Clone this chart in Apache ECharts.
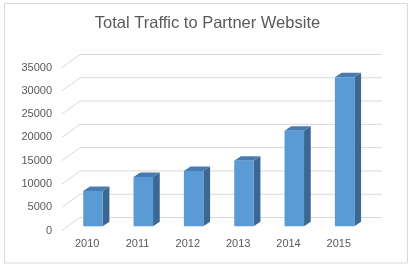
<!DOCTYPE html>
<html>
<head>
<meta charset="utf-8">
<script src="https://cdn.jsdelivr.net/npm/echarts@6/dist/echarts.min.js"></script>
<style>
html,body{margin:0;padding:0;background:#fff;}
#chart{width:415px;height:267px;}
</style>
</head>
<body>
<div id="chart"></div>
<script>
const titleText = 'Total Traffic to Partner Website';
const categories = ['2010', '2011', '2012', '2013', '2014', '2015'];
const traffic = [7600, 10600, 11900, 14100, 20500, 32000];
const yTicks = [0, 5000, 10000, 15000, 20000, 25000, 30000, 35000];

const chart = echarts.init(document.getElementById('chart'), null, {renderer: 'canvas'});

const WALL_DX = 18, WALL_DY = -13;     // floor depth (front -> back wall)
const BAR_DX = 5.8, BAR_DY = -4.2;     // bar front face position in depth
const BAR_W = 19.5, BAR_DEPTH_X = 6.7, BAR_DEPTH_Y = -4.5;

const option = {
  animation: false,
  backgroundColor: '#ffffff',
  title: {
    text: titleText,
    left: 'center',
    top: 15,
    padding: 0,
    textStyle: {fontFamily: 'Liberation Sans', fontSize: 16.5, fontWeight: 'normal', color: '#595959'}
  },
  graphic: [{
    type: 'rect',
    shape: {x: 4.5, y: 3.5, width: 403, height: 259.5},
    style: {fill: 'none', stroke: '#d9d9d9', lineWidth: 1},
    silent: true
  }],
  grid: {left: 62, right: 51, top: 67.5, bottom: 36.5},
  xAxis: {
    type: 'category',
    data: categories,
    boundaryGap: true,
    axisLine: {show: false},
    axisTick: {show: false},
    axisLabel: {color: '#595959', fontSize: 11, fontFamily: 'Liberation Sans', margin: 8}
  },
  yAxis: {
    type: 'value',
    min: 0,
    max: 35000,
    interval: 5000,
    axisLine: {show: false},
    axisTick: {show: false},
    splitLine: {show: false},
    axisLabel: {color: '#595959', fontSize: 11, fontFamily: 'Liberation Sans', margin: 10,
      formatter: function (v) { return String(v); }}
  },
  series: [
    {
      type: 'custom',
      silent: true,
      z: 1,
      data: yTicks.map(v => [0, v]),
      encode: {x: 0, y: 1},
      renderItem: function (params, api) {
        const cs = params.coordSys;
        const y = api.coord([0, api.value(1)])[1];
        return {
          type: 'polyline',
          shape: {points: [
            [cs.x, y],
            [cs.x + WALL_DX, y + WALL_DY],
            [cs.x + cs.width + WALL_DX, y + WALL_DY]
          ]},
          style: {stroke: '#d9d9d9', lineWidth: 1, fill: null}
        };
      }
    },
    {
      type: 'custom',
      z: 2,
      data: traffic.map((v, i) => [i, v]),
      encode: {x: 0, y: 1},
      renderItem: function (params, api) {
        const i = api.value(0);
        const top = api.coord([i, api.value(1)]);
        const base = api.coord([i, 0]);
        const x = top[0] + BAR_DX - BAR_W / 2;
        const y = top[1] + BAR_DY;
        const yb = base[1] + BAR_DY;
        return {
          type: 'group',
          children: [
            {
              type: 'polygon',
              shape: {points: [[x + BAR_W, y], [x + BAR_W + BAR_DEPTH_X, y + BAR_DEPTH_Y], [x + BAR_W + BAR_DEPTH_X, yb + BAR_DEPTH_Y], [x + BAR_W, yb]]},
              style: {fill: '#3b6792'}
            },
            {
              type: 'polygon',
              shape: {points: [[x, y], [x + BAR_DEPTH_X, y + BAR_DEPTH_Y], [x + BAR_W + BAR_DEPTH_X, y + BAR_DEPTH_Y], [x + BAR_W, y]]},
              style: {fill: '#4a7bb0'}
            },
            {
              type: 'rect',
              shape: {x: x, y: y, width: BAR_W, height: yb - y},
              style: {fill: '#5b9bd5'}
            }
          ]
        };
      }
    }
  ]
};
chart.setOption(option);
</script>
</body>
</html>
